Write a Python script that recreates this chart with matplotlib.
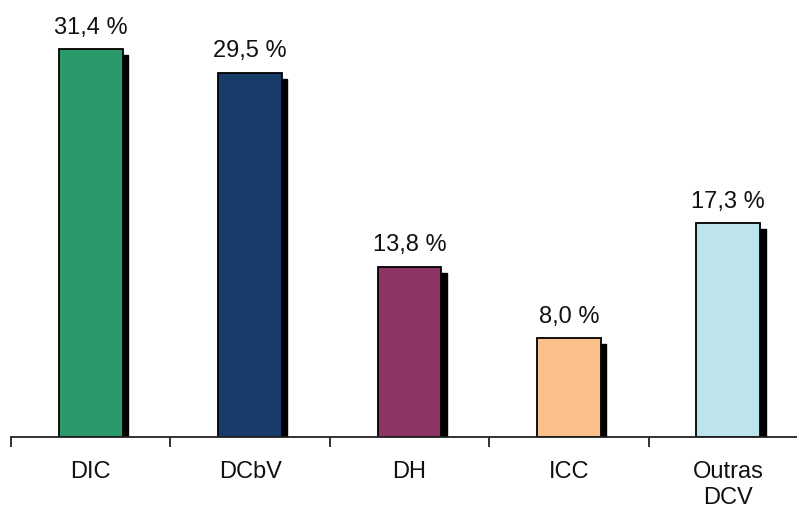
import matplotlib
matplotlib.use("Agg")
import matplotlib.pyplot as plt
from matplotlib.ticker import FixedLocator

categories = ["DIC", "DCbV", "DH", "ICC", "Outras\nDCV"]
values = [31.4, 29.5, 13.8, 8.0, 17.3]
labels = ["31,4 %", "29,5 %", "13,8 %", "8,0 %", "17,3 %"]
colors = ["#2a9a6a", "#173c6a", "#8e3563", "#fcc08c", "#bde3ec"]

plt.rcParams['font.family'] = ['Liberation Sans', 'DejaVu Sans']

W, H = 797, 509
fig = plt.figure(figsize=(W / 100, H / 100), dpi=100)
ax = fig.add_axes([11 / W, 72 / H, 786 / W, 437 / H])

x = list(range(len(categories)))
px_x = 159.4  # pixels per category unit
px_y = 12.35  # pixels per value unit
bw = 0.40
sx = 5.5 / px_x
sy = 6 / px_y

# shadows
ax.bar([i + sx for i in x], [v - sy for v in values], width=bw, color="black",
       edgecolor="black", zorder=1)
# bars
ax.bar(x, values, width=bw, color=colors, edgecolor="black", linewidth=1.3, zorder=2)

for i, (v, lab) in enumerate(zip(values, labels)):
    ax.annotate(lab, (i, v), xytext=(0, 7.5), textcoords="offset points",
                ha="center", va="bottom", fontsize=17, color="#111111")

ax.set_xlim(-0.5, -0.5 + 786 / px_x)
ax.set_ylim(0, 437 / px_y)

for s in ["top", "right", "left"]:
    ax.spines[s].set_visible(False)
ax.spines["bottom"].set_color("#222222")
ax.spines["bottom"].set_linewidth(1.3)
ax.set_yticks([])

ax.set_xticks(x)
ax.set_xticklabels(categories, fontsize=17, color="#111111", linespacing=1.25)
ax.tick_params(axis="x", which="major", length=0, pad=17)
ax.xaxis.set_minor_locator(FixedLocator([i - 0.5 for i in range(len(categories) + 1)]))
ax.tick_params(axis="x", which="minor", length=7, width=1.3, color="#222222")

fig.savefig("out.png", dpi=100, facecolor="white")
